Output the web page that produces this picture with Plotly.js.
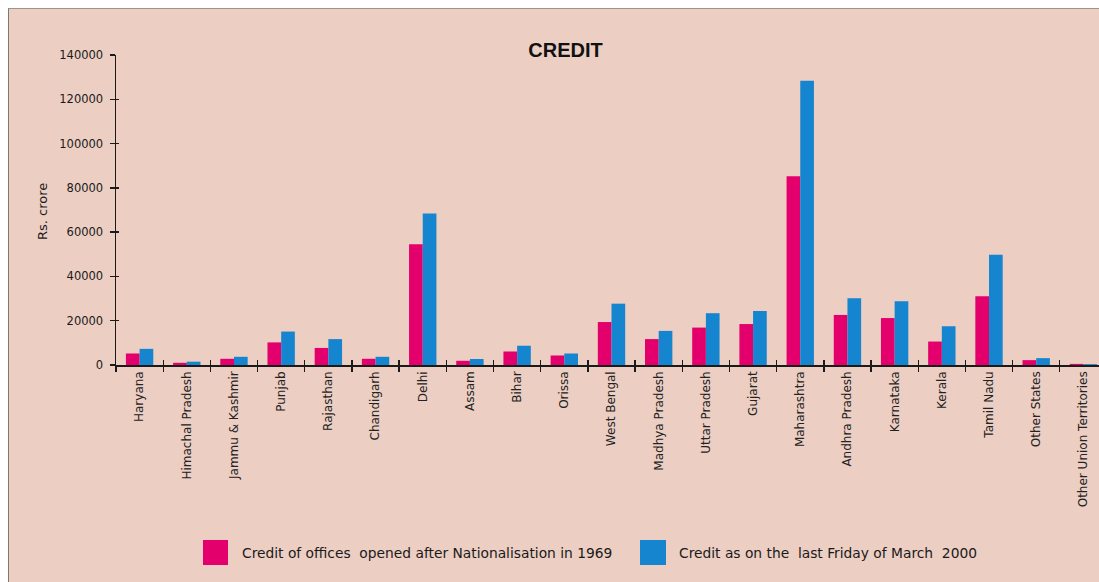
<!DOCTYPE html>
<html>
<head>
<meta charset="utf-8">
<script src="https://cdn.plot.ly/plotly-3.0.1.min.js"></script>
<style>
  html, body { margin: 0; padding: 0; background: #ffffff; overflow: hidden; width: 1099px; height: 582px; }
  #frame { position: absolute; left: 8px; top: 8px; width: 1106px; height: 574px; border-left: 1px solid #7d7a70; border-top: 1px solid #9a968c; background: #ecced3; background: #eccec3; }
  #chart { position: absolute; left: 0; top: 0; width: 1106px; height: 574px; }
</style>
</head>
<body>
<div id="frame"><div id="chart"></div></div>
<script>
// ---- data (Rs. crore) ----
const categories = ["Haryana", "Himachal Pradesh", "Jammu & Kashmir", "Punjab", "Rajasthan", "Chandigarh", "Delhi", "Assam", "Bihar", "Orissa", "West Bengal", "Madhya Pradesh", "Uttar Pradesh", "Gujarat", "Maharashtra", "Andhra Pradesh", "Karnataka", "Kerala", "Tamil Nadu", "Other States", "Other Union Territories"];
const creditAfter1969 = [5200, 1000, 2800, 10200, 7700, 2800, 54500, 1900, 6100, 4300, 19400, 11700, 16900, 18500, 85200, 22600, 21200, 10600, 31000, 2200, 500];
const creditMarch2000 = [7300, 1500, 3700, 15100, 11700, 3700, 68400, 2700, 8700, 5200, 27700, 15400, 23400, 24400, 128400, 30200, 28800, 17500, 49800, 3100, 400];
const seriesNames = ["Credit of offices  opened after Nationalisation in 1969", "Credit as on the  last Friday of March  2000"];
const yTickVals = [0, 20000, 40000, 60000, 80000, 100000, 120000, 140000];

// ---- style ----
const PINK = "#e4006c";
const BLUE = "#1685d0";
const FONT = "DejaVu Sans, Verdana, sans-serif";

// plot-area geometry (frame pixels) to place legend / labels
const M = {l: 107, r: 8, t: 46, b: 218};
const W = 1106, H = 574;
const pw = W - M.l - M.r, ph = H - M.t - M.b;
const fx = px => (px - M.l) / pw;          // frame x px -> paper
const fy = py => (H - M.b - py) / ph;      // frame y px -> paper

const n = categories.length;
const boundaries = categories.map((_, i) => i - 0.5);

const traces = [
  {type: "bar", x: categories, y: creditAfter1969, name: seriesNames[0], marker: {color: PINK}, hoverinfo: "x+y"},
  {type: "bar", x: categories, y: creditMarch2000, name: seriesNames[1], marker: {color: BLUE}, hoverinfo: "x+y"},
  // empty trace so the overlay axes (inner half of the crossing ticks) get drawn
  {type: "scatter", x: [], y: [], xaxis: "x2", yaxis: "y2", hoverinfo: "skip", showlegend: false}
];

const layout = {
  width: W, height: H,
  margin: M,
  paper_bgcolor: "rgba(0,0,0,0)",
  plot_bgcolor: "rgba(0,0,0,0)",
  showlegend: false,
  barmode: "group",
  bargap: 0.42,
  bargroupgap: 0,
  font: {family: FONT, color: "#1a1a1a"},
  title: {
    text: "<b>CREDIT</b>",
    font: {family: "Liberation Sans, Arial, sans-serif", size: 20, color: "#111"},
    xref: "paper", x: fx(556.5), xanchor: "center",
    yref: "container", y: 1 - 41 / H, yanchor: "middle"
  },
  xaxis: {
    type: "category",
    range: [-0.5, n - 0.5],
    tickson: "boundaries",
    ticks: "outside", ticklen: 5, tickwidth: 1.3, tickcolor: "#1a1a1a",
    showline: true, linecolor: "#1a1a1a", linewidth: 1.5,
    showgrid: false, zeroline: false,
    tickangle: -90,
    tickfont: {family: FONT, size: 12, color: "#222"},
    automargin: false
  },
  xaxis2: {
    overlaying: "x", anchor: "y2",
    range: [-0.5, n - 0.5],
    tickmode: "array", tickvals: boundaries,
    ticks: "inside", ticklen: 5, tickwidth: 1.3, tickcolor: "#1a1a1a",
    showticklabels: false, showline: false, showgrid: false, zeroline: false
  },
  yaxis: {
    range: [0, 140000],
    tickmode: "array", tickvals: yTickVals,
    ticks: "outside", ticklen: 5, tickwidth: 1.3, tickcolor: "#1a1a1a",
    showline: true, linecolor: "#1a1a1a", linewidth: 1.5,
    showgrid: false, zeroline: false,
    tickfont: {family: FONT, size: 11.5, color: "#1a1a1a"},
    ticklabelstandoff: 4,
    tickformat: "d",
    automargin: false
  },
  yaxis2: {
    overlaying: "y", anchor: "x2", side: "left",
    range: [0, 140000],
    tickmode: "array", tickvals: yTickVals,
    ticks: "inside", ticklen: 3, tickwidth: 1.3, tickcolor: "#1a1a1a",
    showticklabels: false, showline: false, showgrid: false, zeroline: false
  },
  annotations: [
    {text: "Rs. crore", textangle: -90, xref: "paper", yref: "paper",
     x: fx(33), y: fy(203), xanchor: "center", yanchor: "middle", showarrow: false,
     font: {family: FONT, size: 13, color: "#1a1a1a"}},
    {text: seriesNames[0], xref: "paper", yref: "paper", x: fx(231), y: fy(544),
     xanchor: "left", yanchor: "middle", showarrow: false,
     font: {family: FONT, size: 13.8, color: "#1a1a1a"}},
    {text: seriesNames[1], xref: "paper", yref: "paper", x: fx(668), y: fy(544),
     xanchor: "left", yanchor: "middle", showarrow: false,
     font: {family: FONT, size: 13.8, color: "#1a1a1a"}}
  ],
  shapes: [
    {type: "rect", xref: "paper", yref: "paper", x0: fx(194), x1: fx(219), y0: fy(531), y1: fy(556),
     fillcolor: PINK, line: {width: 0}},
    {type: "rect", xref: "paper", yref: "paper", x0: fx(631), x1: fx(657), y0: fy(531), y1: fy(556),
     fillcolor: BLUE, line: {width: 0}}
  ]
};

Plotly.newPlot("chart", traces, layout, {displayModeBar: false, staticPlot: true});
</script>
</body>
</html>
